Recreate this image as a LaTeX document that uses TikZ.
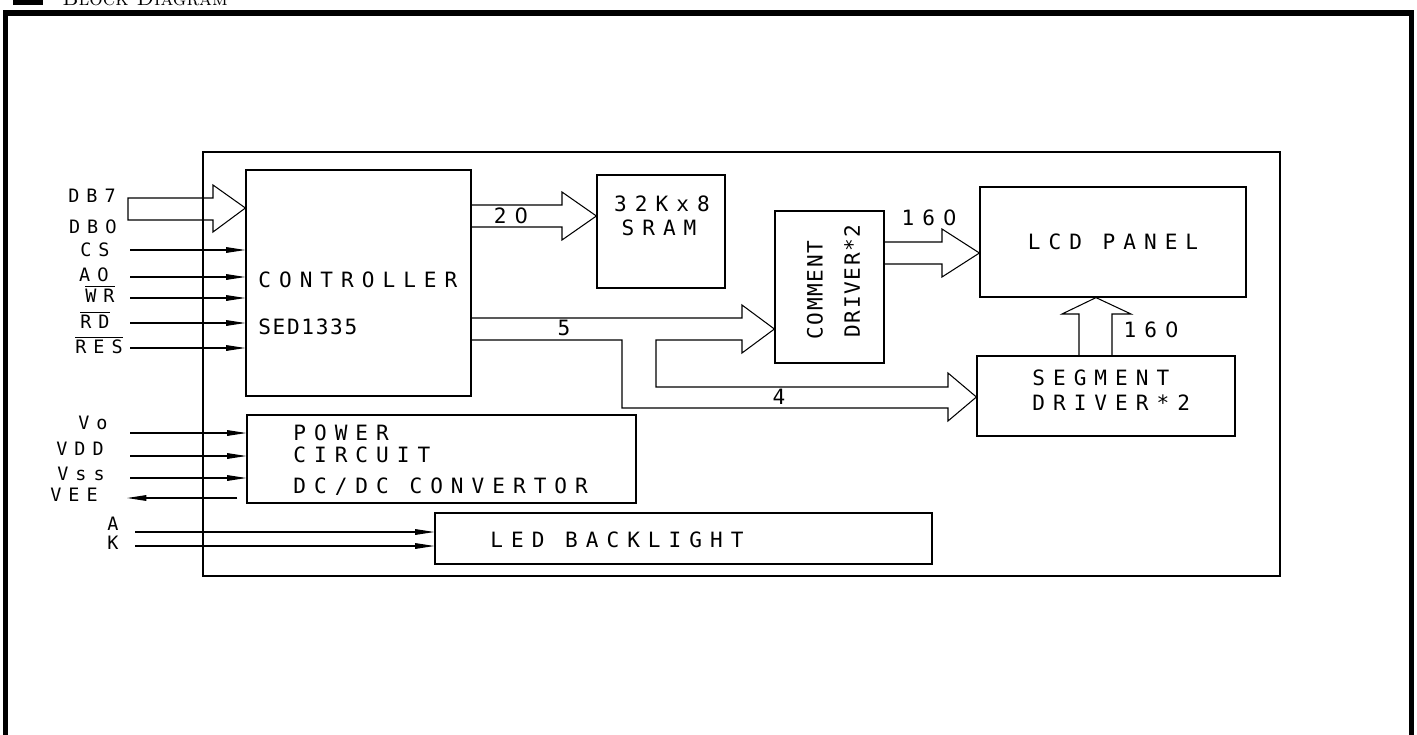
\documentclass[tikz,border=0pt]{standalone}
\usepackage{fontspec}
\usepackage{tikz}
\usetikzlibrary{arrows.meta, calc}
\newfontfamily\cadfont[LetterSpace=38]{DejaVu Sans Mono}
\newfontfamily\cadtight[LetterSpace=8]{DejaVu Sans Mono}
\newfontfamily\cadzero{DejaVu Sans}
% plain (unslashed) zero, spaced like the letters before it
\newcommand\zr{\kern0.38em{\cadzero 0}}

\begin{document}
\begin{tikzpicture}[x=0.02cm, y=-0.02cm,
    blk/.style={draw, line width=0.7pt, inner sep=0pt, font=\cadfont\fontsize{12}{14}\selectfont},
    txt/.style={inner sep=0pt, font=\cadfont\fontsize{12}{14}\selectfont},
    tight/.style={inner sep=0pt, font=\cadtight\fontsize{12}{14}\selectfont},
    pin/.style={inner sep=0pt, font=\cadfont\fontsize{10.5}{12}\selectfont},
    sig/.style={-{Triangle[length=11pt,width=3.2pt]}, line width=0.6pt},
    bus/.style={line width=0.6pt, line join=miter}]
  \useasboundingbox (0,0) rectangle (1417,734);

  % heading and frames
  \fill (13,-25) rectangle (43,5);
  \node[anchor=base west, inner sep=0pt, font=\fontsize{12}{14}\selectfont\scshape] (title) at (62,5) {Block Diagram};
  \draw[line width=3.1pt] (5.5,760) -- (5.5,13) -- (1411.5,13) -- (1411.5,760);
  \draw[line width=0.7pt] (203,152) rectangle (1280,576);

  % blocks
  \node[blk, minimum width=4.5cm, minimum height=4.52cm] (ctrl) at (358.5,283) {};
  \node[blk, minimum width=2.56cm, minimum height=2.26cm] (sram) at (661,231.5) {};
  \node[blk, minimum width=2.18cm, minimum height=3.04cm] (com) at (829.5,287) {};
  \node[blk, minimum width=5.32cm, minimum height=2.2cm] (lcd) at (1113,242) {LCD PANEL};
  \node[blk, minimum width=5.16cm, minimum height=1.6cm] (seg) at (1106,396) {};
  \node[blk, minimum width=7.78cm, minimum height=1.76cm] (pwr) at (441.5,459) {};
  \node[blk, minimum width=9.94cm, minimum height=1.02cm] (led) at (683.5,538.5) {};

  % block texts
  \node[txt, anchor=west] (ctrlname) at (258,280) {CONTROLLER};
  \node[tight, anchor=west] (ctrlchip) at (258,327) {SED1335};
  \node[txt] (sramsize) at (662,204) {32Kx8};
  \node[txt] (sramname) at (659,228) {SRAM};
  \node[tight, rotate=90, anchor=west] (comname) at (815,340) {COMMENT};
  \node[tight, rotate=90, anchor=west] (comdrv) at (852,338) {DRIVER*2};
  \node[txt, anchor=west] (segname) at (1032,378) {SEGMENT};
  \node[txt, anchor=west] (segdrv) at (1032,403) {DRIVER*2};
  \node[txt, anchor=west] (pwrname) at (293,433) {POWER};
  \node[txt, anchor=west] (pwrcirc) at (293,455) {CIRCUIT};
  \node[txt, anchor=west] (pwrconv) at (293,487) {DC/DC CONVERTOR};
  \node[txt, anchor=west] (ledname) at (490,540) {LED BACKLIGHT};

  % data bus into the controller
  \node[pin] (db7) at (92,196) {DB7};
  \node[pin] (db0) at (93,227) {DB\zr};
  \draw[bus] (ctrl.west |- 0,208) -- (213,185) -- (213,198) -- (128,198) -- (128,220)
    -- (213,220) -- (213,232) -- cycle;

  % control lines
  \foreach \nm/\lx/\ly/\sy/\lab in {cs/95/250/250/CS, ao/94/275/277/A\zr,
      wr/100/294/298/{$\overline{\mbox{WR}}$}, rd/95/320/323/{$\overline{\mbox{RD}}$},
      res/99/345/348/{$\overline{\mbox{RES}}$}} {
    \node[pin] (\nm) at (\lx,\ly) {\lab};
    \coordinate (\nm-in) at (130,\sy);
    \draw[sig] (\nm-in) -- (ctrl.west |- \nm-in);
  }

  % supply lines
  \foreach \nm/\lx/\ly/\sy/\lab in {vo/93/423/433/Vo, vdd/80/449/456/VDD, vss/81/474/478/Vss} {
    \node[pin] (\nm) at (\lx,\ly) {\lab};
    \coordinate (\nm-in) at (130,\sy);
    \draw[sig] (\nm-in) -- (pwr.west |- \nm-in);
  }
  \node[pin] (vee) at (74,495) {VEE};
  \coordinate (vee-out) at (127,498);
  \draw[sig, shorten <=0.18cm] (pwr.west |- vee-out) -- (vee-out);

  % backlight
  \foreach \nm/\ly/\sy/\lab in {a/524/532/A, k/543/546/K} {
    \node[pin] (\nm) at (113,\ly) {\lab};
    \coordinate (\nm-in) at (135,\sy);
    \draw[sig] (\nm-in) -- (led.west |- \nm-in);
  }

  % buses
  \draw[bus] (ctrl.east |- 0,205) -- (562,205) -- (562,192) -- (sram.west |- 0,216)
    -- (562,240) -- (562,227) -- (ctrl.east |- 0,227);
  \node[txt] (addr) at (511,216) {2\zr};

  \draw[bus] (ctrl.east |- 0,318) -- (742,318) -- (742,305) -- (com.west |- 0,329)
    -- (742,353) -- (742,340) -- (656,340) -- (656,387) -- (948,387) -- (948,373)
    -- (seg.west |- 0,397) -- (948,421) -- (948,408) -- (622,408) -- (622,340)
    -- (ctrl.east |- 0,340);
  \node[txt] (combus) at (564,328) {5};
  \node[txt] (segbus) at (779,397) {4};

  \draw[bus] (com.east |- 0,242) -- (942,242) -- (942,229) -- (lcd.west |- 0,253)
    -- (942,277) -- (942,264) -- (com.east |- 0,264);
  \node[txt] (comout) at (929,218) {16\zr};

  \draw[bus] (seg.north -| 1079,0) -- (1079,314) -- (1062,314) -- (lcd.south -| 1096,0)
    -- (1131,314) -- (1112,314) -- (seg.north -| 1112,0);
  \node[txt] (segout) at (1151,330) {16\zr};
\end{tikzpicture}
\end{document}
